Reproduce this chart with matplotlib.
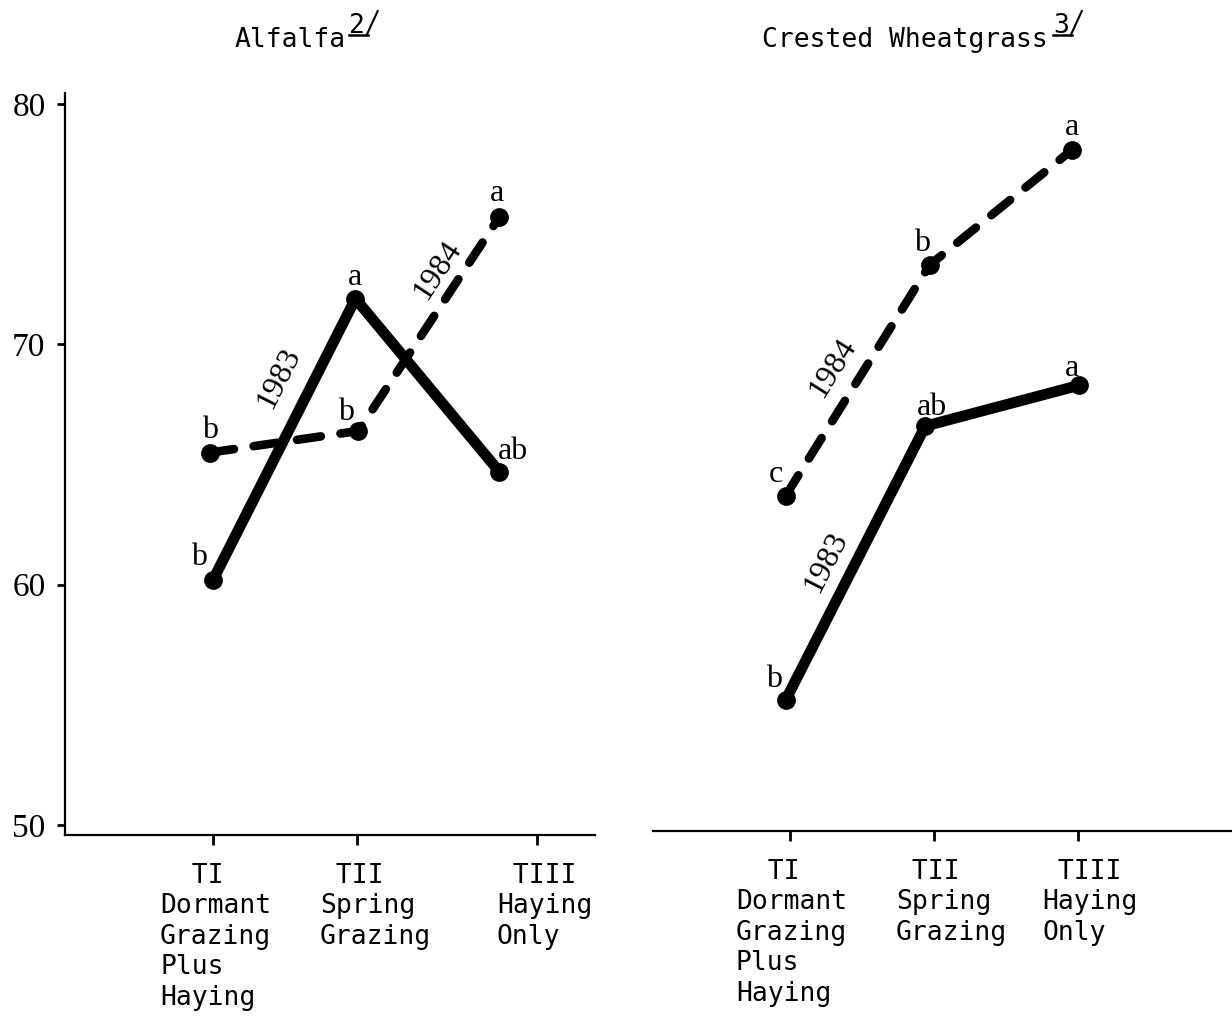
import matplotlib
matplotlib.use('Agg')
import matplotlib.pyplot as plt
from matplotlib.lines import Line2D
import numpy as np

# Treatment labels (typewriter style, left aligned blocks)
treat_labels = ['  TI\nDormant\nGrazing\nPlus\nHaying',
                ' TII\nSpring\nGrazing',
                ' TIII\nHaying\nOnly']
yticks = [50, 60, 70, 80]

# Alfalfa
alf_ticks = [0, 1, 2.25]
alf_x83 = [0.0, 0.99, 1.99]
alf_y83 = [60.2, 71.9, 64.7]
alf_let83 = ['b', 'a', 'ab']
alf_x84 = [-0.02, 1.01, 1.99]
alf_y84 = [65.5, 66.4, 75.3]
alf_let84 = ['b', 'b', 'a']

# Crested Wheatgrass
cw_ticks = [0, 1, 2]
cw_x83 = [-0.03, 0.94, 2.01]
cw_y83 = [55.2, 66.6, 68.3]
cw_let83 = ['b', 'ab', 'a']
cw_x84 = [-0.03, 0.97, 1.96]
cw_y84 = [63.7, 73.3, 78.1]
cw_let84 = ['c', 'b', 'a']

mono = 'DejaVu Sans Mono'
serif = 'Liberation Serif'

fig = plt.figure(figsize=(12.32, 10.17), dpi=100)
ax1 = fig.add_axes([0.0528, 0.179, 0.430, 0.7296])
ax2 = fig.add_axes([0.530, 0.1829, 0.470, 0.7257])


def draw_panel(ax, ticks, x83, y83, l83, x84, y84, l84, xlim, ylim,
               lab_x, offs83, offs84, yr83, yr84):
    ax.set_xlim(xlim)
    ax.set_ylim(ylim)
    ax.plot(x83, y83, color='k', lw=7.8, solid_capstyle='round',
            solid_joinstyle='round', marker='o', ms=12.5, zorder=3)
    ax.plot(x84, y84, color='k', lw=6.2, ls=(0, (2.8, 2.3)),
            dash_capstyle='round', marker='o', ms=12.5, zorder=3)

    # significance letters
    for x, y, s, o in zip(x83, y83, l83, offs83):
        ax.annotate(s, (x, y), xytext=o, textcoords='offset pixels',
                    ha='center', va='center', fontsize=23, family=serif)
    for x, y, s, o in zip(x84, y84, l84, offs84):
        ax.annotate(s, (x, y), xytext=o, textcoords='offset pixels',
                    ha='center', va='center', fontsize=23, family=serif)

    # year labels along the lines
    for xs, ys, (i, t, dx), txt in [(x83, y83, yr83, '1983'), (x84, y84, yr84, '1984')]:
        p0 = ax.transData.transform((xs[i], ys[i]))
        p1 = ax.transData.transform((xs[i + 1], ys[i + 1]))
        ang = np.degrees(np.arctan2(p1[1] - p0[1], p1[0] - p0[0]))
        px = xs[i] + t * (xs[i + 1] - xs[i])
        py = ys[i] + t * (ys[i + 1] - ys[i])
        ax.annotate(txt, (px, py), xytext=(dx, 0), textcoords='offset pixels',
                    ha='center', va='center', rotation=ang,
                    rotation_mode='anchor', fontsize=23, family=serif)

    # axes styling
    for s in ['top', 'right']:
        ax.spines[s].set_visible(False)
    ax.spines['bottom'].set_linewidth(1.6)
    ax.spines['left'].set_linewidth(1.6)
    ax.set_xticks(ticks)
    ax.set_xticklabels([])
    ax.tick_params(axis='x', direction='out', length=7, width=2)
    for x, lab in zip(lab_x, treat_labels):
        ax.annotate(lab, (x, 0), xycoords=('data', 'axes fraction'),
                    xytext=(0, -28), textcoords='offset pixels',
                    ha='left', va='top', fontsize=19, family=mono,
                    linespacing=1.22, annotation_clip=False)


draw_panel(ax1, alf_ticks, alf_x83, alf_y83, alf_let83,
           alf_x84, alf_y84, alf_let84,
           (-1.028, 2.653), (49.59, 80.46),
           [-0.368, 0.743, 1.972],
           [(-14, 22), (0, 21), (14, 20)],
           [(0, 22), (-12, 18), (-2, 23)],
           (0, 0.716, -36), (1, 0.753, -27))

draw_panel(ax2, cw_ticks, cw_x83, cw_y83, cw_let83,
           cw_x84, cw_y84, cw_let84,
           (-0.951, 3.069), (49.75, 80.46),
           [-0.375, 0.736, 1.75],
           [(-12, 21), (7, 19), (-7, 17)],
           [(-10, 21), (-8, 22), (0, 22)],
           (0, 0.504, -30), (0, 0.552, -32))

ax1.set_yticks(yticks)
ax1.set_yticklabels([str(v) for v in yticks], family=serif, fontsize=24)
ax1.tick_params(axis='y', direction='out', length=6, width=2, pad=8)

ax2.spines['left'].set_visible(False)
ax2.set_yticks([])

# titles with underlined footnote marks
W, H = 1232, 1017
for x0, name, note in [(235, 'Alfalfa', '2'), (762, 'Crested Wheatgrass', '3')]:
    fig.text(x0 / W, 1 - 47 / H, name, family=mono, fontsize=19,
             va='baseline', ha='left')
    xn = x0 + 16.1 * len(name) + 1
    fig.text(xn / W, 1 - 33 / H, note, family=mono, fontsize=19,
             va='baseline', ha='left')
    fig.add_artist(Line2D([xn / W, (xn + 19) / W], [1 - 35 / H, 1 - 35 / H],
                          transform=fig.transFigure, color='k', lw=1.8))
    fig.add_artist(Line2D([(xn + 18) / W, (xn + 29) / W], [1 - 35 / H, 1 - 11 / H],
                          transform=fig.transFigure, color='k', lw=1.5))

fig.savefig('out.png', dpi=100, facecolor='white')
